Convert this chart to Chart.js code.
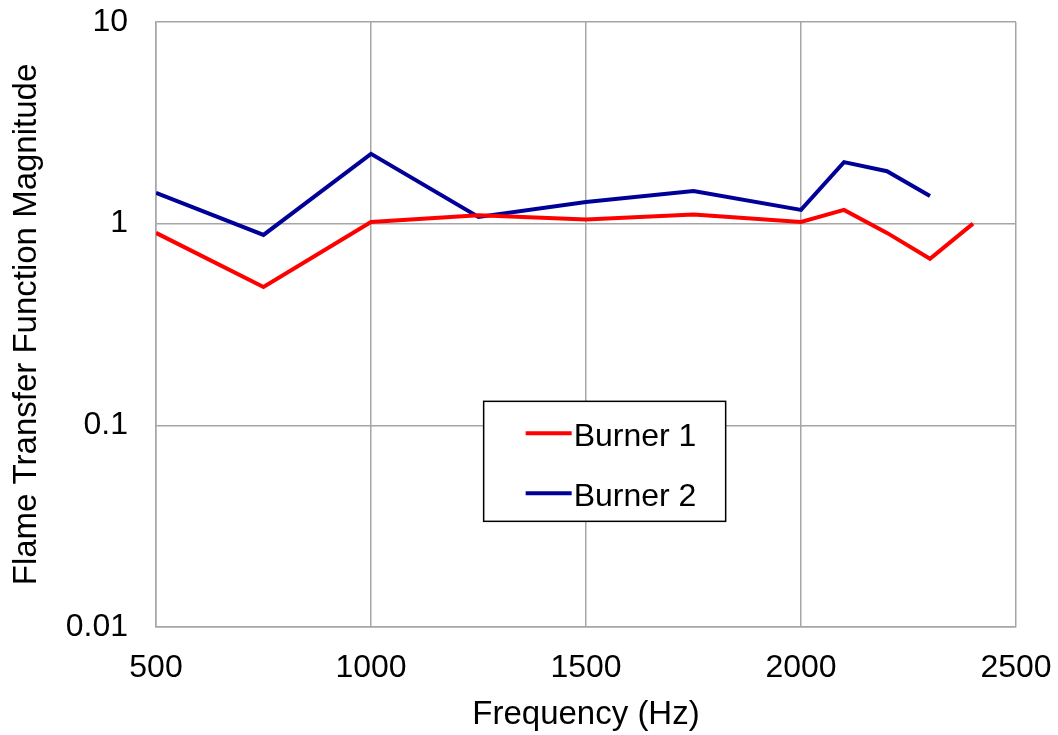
<!DOCTYPE html>
<html>
<head>
<meta charset="utf-8">
<script src="https://cdn.jsdelivr.net/npm/chart.js@4/dist/chart.umd.min.js"></script>
<style>
  html, body { margin: 0; padding: 0; background: #fff; }
  #wrap { width: 1058px; height: 735px; position: relative; }
</style>
</head>
<body>
<div id="wrap"><canvas id="ftfChart"></canvas></div>
<script>
// Data
const burner1Freq = [500, 750, 1000, 1250, 1500, 1750, 2000, 2100, 2200, 2300, 2400];
const burner1Mag  = [0.90, 0.485, 1.02, 1.10, 1.05, 1.11, 1.02, 1.17, 0.90, 0.67, 1.0];
const burner2Freq = [500, 750, 1000, 1250, 1500, 1750, 2000, 2100, 2200, 2300];
const burner2Mag  = [1.42, 0.88, 2.22, 1.08, 1.28, 1.45, 1.17, 2.02, 1.82, 1.37];
const yTickValues = [0.01, 0.1, 1, 10];

const FONT = 'Liberation Sans, Arial, sans-serif';
const GRID_COLOR = '#a6a6a6';

const toPoints = (xs, ys) => xs.map((x, i) => ({ x: x, y: ys[i] }));

// Legend box drawn inside the plot area, like the original
const boxLegend = {
    id: 'boxLegend',
    afterDraw(chart) {
        const ctx = chart.ctx;
        const a = chart.chartArea;
        const w = a.right - a.left;
        const h = a.bottom - a.top;
        const x0 = a.left + w * 0.381;
        const y0 = a.top + h * 0.627;
        const bw = 242, bh = 120;
        ctx.save();
        ctx.fillStyle = '#fff';
        ctx.fillRect(x0, y0, bw, bh);
        ctx.strokeStyle = '#000';
        ctx.lineWidth = 1.5;
        ctx.strokeRect(x0, y0, bw, bh);
        ctx.font = '32px ' + FONT;
        ctx.textBaseline = 'middle';
        chart.data.datasets.forEach((ds, i) => {
            const ly = y0 + 32 + i * 60;
            ctx.strokeStyle = ds.borderColor;
            ctx.lineWidth = 4;
            ctx.beginPath();
            ctx.moveTo(x0 + 42, ly);
            ctx.lineTo(x0 + 88, ly);
            ctx.stroke();
            ctx.fillStyle = '#000';
            ctx.fillText(ds.label, x0 + 90, ly + 4);
        });
        ctx.restore();
    }
};

new Chart(document.getElementById('ftfChart').getContext('2d'), {
    type: 'line',
    data: {
        datasets: [
            {
                label: 'Burner 1',
                data: toPoints(burner1Freq, burner1Mag),
                borderColor: '#ff0000',
                borderWidth: 4,
                pointRadius: 0,
                tension: 0
            },
            {
                label: 'Burner 2',
                data: toPoints(burner2Freq, burner2Mag),
                borderColor: '#000099',
                borderWidth: 4,
                pointRadius: 0,
                tension: 0
            }
        ]
    },
    options: {
        responsive: true,
        maintainAspectRatio: false,
        animation: false,
        layout: { padding: { top: 22, right: 42, left: 0, bottom: 0 } },
        plugins: {
            legend: { display: false },
            tooltip: { enabled: false }
        },
        scales: {
            x: {
                type: 'linear',
                min: 500,
                max: 2500,
                border: { display: true, color: GRID_COLOR, width: 1.5 },
                grid: { color: GRID_COLOR, lineWidth: 1.5, drawTicks: false },
                ticks: {
                    stepSize: 500,
                    padding: 22,
                    maxRotation: 0,
                    color: '#000',
                    font: { family: FONT, size: 32 },
                    callback: v => String(v)
                },
                title: {
                    display: true,
                    text: 'Frequency (Hz)',
                    color: '#000',
                    font: { family: FONT, size: 33 },
                    padding: { top: 0, bottom: 0 }
                },
                afterFit(scale) {
                    scale.height = 108;
                    scale.paddingLeft = 0;
                    scale.paddingRight = 0;
                }
            },
            y: {
                type: 'logarithmic',
                min: 0.01,
                max: 10,
                border: { display: true, color: GRID_COLOR, width: 1.5 },
                grid: { color: GRID_COLOR, lineWidth: 1.5, drawTicks: false },
                afterBuildTicks(scale) {
                    scale.ticks = yTickValues.map(v => ({ value: v }));
                },
                ticks: {
                    padding: 28,
                    color: '#000',
                    font: { family: FONT, size: 32 },
                    callback: v => String(v)
                },
                title: {
                    display: true,
                    text: 'Flame Transfer Function Magnitude',
                    color: '#000',
                    font: { family: FONT, size: 33 },
                    padding: { top: 7, bottom: 0 }
                },
                afterFit(scale) {
                    scale.width = 156;
                    scale.paddingTop = 0;
                    scale.paddingBottom = 0;
                }
            }
        }
    },
    plugins: [boxLegend]
});
</script>
</body>
</html>
